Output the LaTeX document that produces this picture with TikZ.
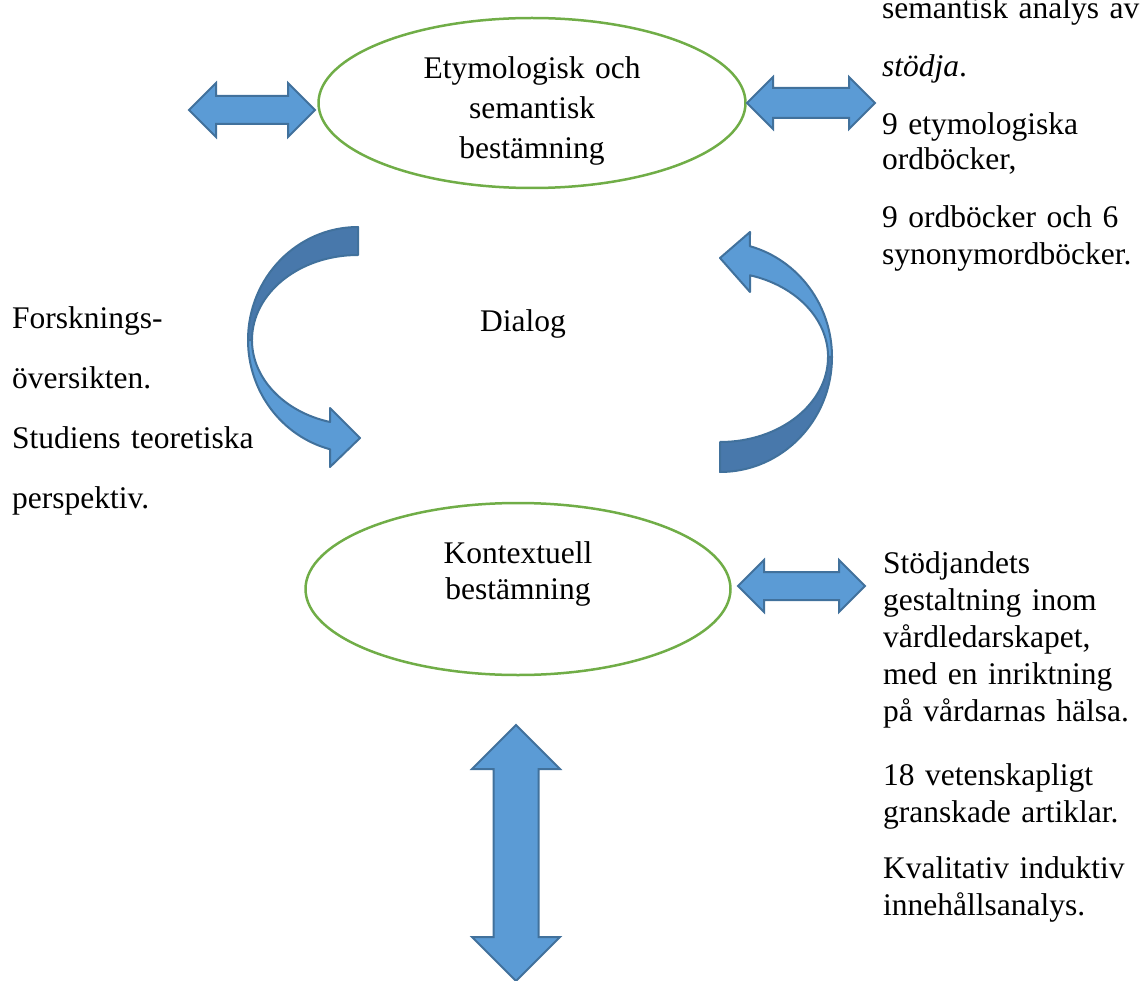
\documentclass[tikz,border=0pt]{standalone}
\usepackage{fontspec}
\setmainfont{Liberation Serif}
\usetikzlibrary{shapes.geometric,shapes.arrows}
\definecolor{arrowfill}{HTML}{5B9BD5}
\definecolor{arrowedge}{HTML}{41719C}
\definecolor{arrowback}{HTML}{4878AB}
\definecolor{ovalgreen}{HTML}{70AD47}
\tikzstyle{oval_node}=[ellipse, draw=ovalgreen, line width=2.5pt, inner sep=0pt]
\tikzstyle{body_text}=[inner sep=0pt, font=\fontsize{31.5}{35}\selectfont]
\tikzstyle{side_text}=[body_text, anchor=base west, text width=300pt, align=left]
\tikzstyle{oval_text}=[body_text, anchor=base, text width=300pt, align=center]
\tikzstyle{block_arrow}=[double arrow, draw=arrowedge, fill=arrowfill, line width=2pt, inner xsep=0pt, double arrow tip angle=90]
\tikzstyle{curve_front}=[draw=arrowedge, fill=arrowfill, line width=2pt, line join=round]
\tikzstyle{curve_back}=[curve_front, fill=arrowback]

\begin{document}
\begin{tikzpicture}[x=1pt,y=-1pt]

            \useasboundingbox (0,0) rectangle (1147,981);

            % Etymological / semantic part
            \node[oval_node,minimum width=427pt,minimum height=170pt] (etym) at (532,103) {};
            \node[oval_text] (etym_text) at (532,79) {Etymologisk och\\[5pt] semantisk\\[5pt] bestämning};

            % Contextual part
            \node[oval_node,minimum width=425pt,minimum height=172pt] (kontext) at (518,589) {};
            \node[oval_text] (kontext_text) at (518,563) {Kontextuell\\[1pt] bestämning};

            % Dialog
            \node[body_text,anchor=base] (dialog) at (523,331) {Dialog};
                % back halves
                \draw[curve_back] (358,227) arc[start angle=-90, end angle=-180, x radius=110, y radius=113] -- (252,340) arc[start angle=180, end angle=270, x radius=106, y radius=85] -- cycle;
                \draw[curve_back] (720,472) arc[start angle=90, end angle=0, x radius=112, y radius=115] -- (828,357) arc[start angle=0, end angle=90, x radius=108, y radius=85] -- cycle;
                % front halves with heads
                \draw[curve_front] (248,340) arc[start angle=180, end angle=104.7, x radius=110, y radius=113] -- (330,467) -- (360,438) -- (330,408) -- (330,422) arc[start angle=105.3, end angle=180, x radius=106, y radius=85] -- cycle;
                \draw[curve_front] (832,357) arc[start angle=0, end angle=-74.5, x radius=112, y radius=115] -- (750,232) -- (720,258) -- (750,292) -- (750,275.3) arc[start angle=-73.9, end angle=0, x radius=108, y radius=85] -- cycle;

            % Double arrows
            \node[block_arrow,minimum height=126pt,minimum width=26pt,inner ysep=13pt,double arrow head extend=13pt] (arrow_left) at (252,110) {};
            \node[block_arrow,minimum height=128pt,minimum width=28pt,inner ysep=14pt,double arrow head extend=11pt] (arrow_etym) at (811,103) {};
            \node[block_arrow,minimum height=127pt,minimum width=26pt,inner ysep=13pt,double arrow head extend=12pt] (arrow_kontext) at (801.5,586) {};
            \node[block_arrow,minimum height=256pt,minimum width=43pt,inner ysep=21.5pt,double arrow head extend=21.5pt,rotate=90] (arrow_down) at (516,853) {};

            % Texts
            \node[side_text,font=\fontsize{31.5}{60}\selectfont] (research_text) at (12,328) {Forsknings-\\ översikten.\\ Studiens teoretiska\\ perspektiv.};
            \node[side_text] (dict_text) at (882,19) {semantisk analys av\\[23pt] \textit{stödja}.\\[23pt] 9 etymologiska\\ ordböcker,\\[23pt] 9 ordböcker och 6\\[2pt] synonymordböcker.};
            \node[side_text,font=\fontsize{31.5}{37}\selectfont] (article_text) at (883,573) {Stödjandets\\ gestaltning inom\\ vårdledarskapet,\\ med en inriktning\\ på vårdarnas hälsa.\\[27pt] 18 vetenskapligt\\ granskade artiklar.\\[19pt] Kvalitativ induktiv\\ innehållsanalys.};

        \end{tikzpicture}
\end{document}
